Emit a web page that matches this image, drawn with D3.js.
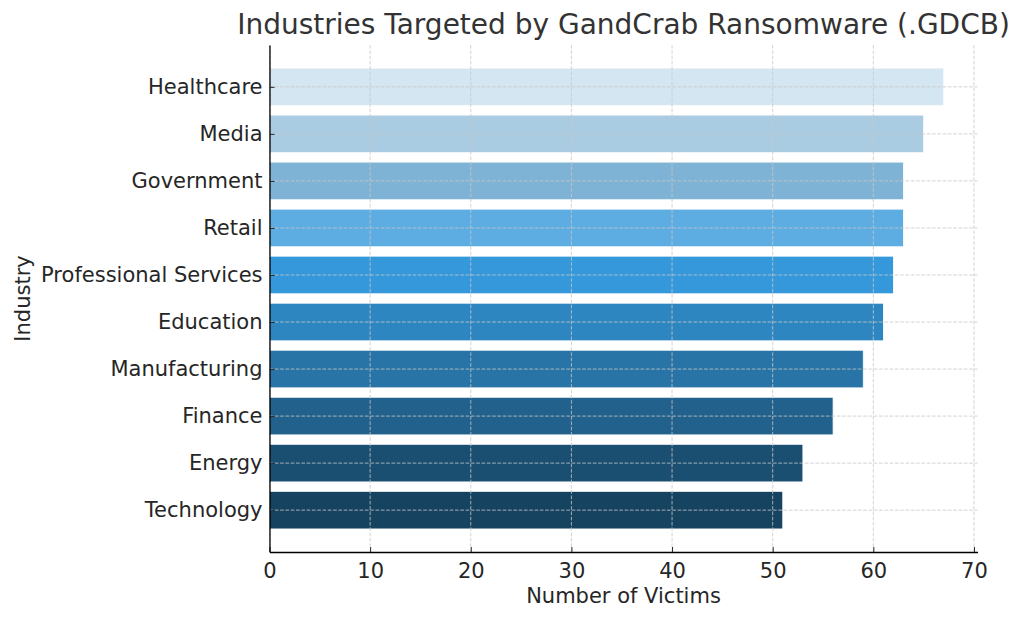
<!DOCTYPE html>
<html><head><meta charset="utf-8">
<script src="https://cdn.jsdelivr.net/npm/d3@7"></script>
<style>
body{margin:0;background:#fff;}
svg{display:block;font-family:"DejaVu Sans",sans-serif;}
</style></head>
<body><svg id="c" width="1024" height="620"></svg>
<script>
const industries = ["Healthcare","Media","Government","Retail","Professional Services","Education","Manufacturing","Finance","Energy","Technology"];
const victims = [67,65,63,63,62,61,59,56,53,51];
const colors = ["#D4E6F1","#A9CCE3","#7FB3D5","#5DADE2","#3498DB","#2E86C1","#2874A6","#21618C","#1B4F72","#154360"];
const xTicks = [0,10,20,30,40,50,60,70];

const svg = d3.select("#c");
const L = 269.5, R = 977.5, T = 45, B = 552;
const n = industries.length;
const xMax = d3.max(victims) * 1.05;
const x = d3.scaleLinear().domain([0, xMax]).range([L, R]);
const pad = 0.05 * (n - 1 + 0.8);
const y = d3.scaleLinear().domain([-0.4 - pad, n - 1 + 0.4 + pad]).range([T, B]);
const bh = y(0.4) - y(-0.4);
const FS = 21;

const g = svg.append("g");
g.selectAll("rect.bar").data(industries).join("rect")
  .attr("x", x(0))
  .attr("y", (d,i) => y(i) - bh/2)
  .attr("width", (d,i) => x(victims[i]) - x(0))
  .attr("height", bh)
  .attr("fill", (d,i) => colors[i])
  .attr("stroke", "#fff").attr("stroke-width", 0.8);

const grid = svg.append("g").attr("stroke", "#c8c8c8").attr("stroke-width", 0.8).attr("stroke-dasharray", "3.7,1.6");
grid.selectAll("line.v").data(xTicks).join("line")
  .attr("x1", d => x(d)).attr("x2", d => x(d)).attr("y1", T).attr("y2", B);
grid.selectAll("line.h").data(industries).join("line")
  .attr("x1", L).attr("x2", R).attr("y1", (d,i) => y(i)).attr("y2", (d,i) => y(i));

const xAxis = d3.axisBottom(x).tickValues(xTicks).tickFormat(d3.format("d")).tickSizeInner(-5).tickSizeOuter(0).tickPadding(11);
const gx = svg.append("g").attr("transform", `translate(0,${B})`).call(xAxis);
gx.select(".domain").attr("stroke", "#000").attr("stroke-width", 1.3);
gx.selectAll(".tick line").attr("stroke", "#262626").attr("stroke-width", 1);
gx.selectAll(".tick text").attr("font-size", FS).attr("fill", "#262626").attr("font-family", "DejaVu Sans");

const yAxis = d3.axisLeft(y).tickValues(d3.range(n)).tickFormat(i => industries[i]).tickSizeInner(-5).tickSizeOuter(0).tickPadding(7);
const gy = svg.append("g").attr("transform", `translate(${L},0)`).call(yAxis);
gy.select(".domain").attr("stroke", "#000").attr("stroke-width", 1.3);
gy.selectAll(".tick line").attr("stroke", "#262626").attr("stroke-width", 1);
gy.selectAll(".tick text").attr("font-size", FS).attr("fill", "#262626").attr("font-family", "DejaVu Sans");

svg.append("text").attr("x", (L+R)/2).attr("y", 34).attr("text-anchor", "middle")
  .attr("font-size", 28).attr("fill", "#333").text("Industries Targeted by GandCrab Ransomware (.GDCB)");
svg.append("text").attr("x", (L+R)/2).attr("y", 603).attr("text-anchor", "middle")
  .attr("font-size", FS).attr("fill", "#262626").text("Number of Victims");
svg.append("text").attr("transform", `translate(30,${(T+B)/2}) rotate(-90)`).attr("text-anchor", "middle")
  .attr("font-size", FS).attr("fill", "#262626").text("Industry");
</script></body></html>
